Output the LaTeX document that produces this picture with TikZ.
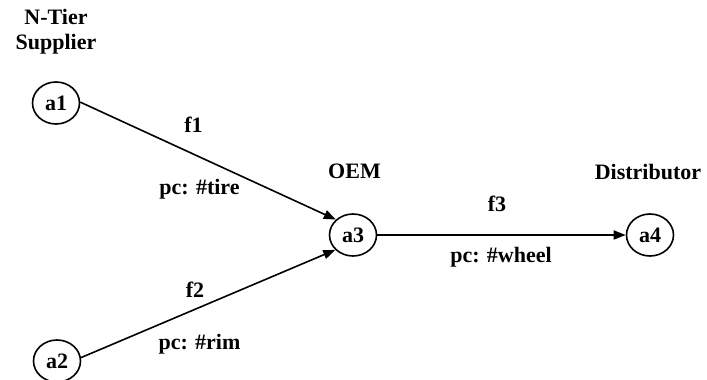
\documentclass[tikz,border=0pt]{standalone}
\usepackage{fontspec}
\setmainfont{Liberation Serif}
\usetikzlibrary{shapes.geometric,arrows.meta}
\begin{document}
\begin{tikzpicture}[x=1pt,y=1pt,
  every node/.style={font=\fontsize{22}{25}\selectfont\bfseries},
  agent/.style={ellipse,draw,line width=1.6pt,minimum width=47pt,minimum height=42pt,inner sep=0pt},
  lbl/.style={anchor=base,inner sep=0pt},
  flow/.style={line width=1.6pt,-{Triangle[length=12pt,width=9pt]}}]
\useasboundingbox (0,0) rectangle (707,380);
\node[agent] (a1) at (56,277) {a1};
\node[agent] (a2) at (57,19) {a2};
\node[agent] (a3) at (353,145) {a3};
\node[agent] (a4) at (650,145) {a4};
\node[lbl] (t1) at (56,355) {N-Tier};
\node[lbl] (t2) at (56,330) {Supplier};
\node[lbl] (oem) at (354.5,201) {OEM};
\node[lbl] (dist) at (648,200) {Distributor};
\node[lbl] (f1) at (193.5,247) {f1};
\node[lbl] (p1) at (199.5,185) {pc: \#tire};
\node[lbl] (f2) at (195,82) {f2};
\node[lbl] (p2) at (199.5,30) {pc: \#rim};
\node[lbl] (f3) at (497,168) {f3};
\node[lbl] (p3) at (501,117) {pc: \#wheel};
\draw[flow] (a1.2) -- (a3.138);
\draw[flow] (a2.8) -- (a3.220);
\draw[flow] (a3) -- (a4);
\end{tikzpicture}
\end{document}
